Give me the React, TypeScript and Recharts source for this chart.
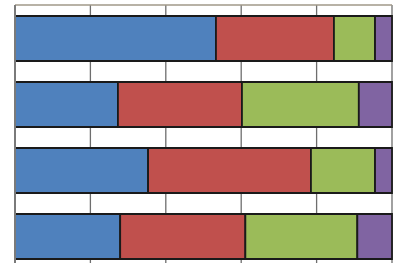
import React from 'react';
import { BarChart, Bar, XAxis, YAxis, CartesianGrid } from 'recharts';

// Row labels are cropped out of the picture, so these are placeholders
const categories = ['A', 'B', 'C', 'D'];
// Shares in percent (each row sums to ~100)
const blueValues = [53.3, 27.3, 35.3, 27.9];
const redValues = [31.3, 32.9, 43.2, 33.2];
const greenValues = [10.9, 31.0, 17.0, 29.7];
const purpleValues = [4.5, 8.8, 4.5, 9.2];
const xTicks = [0, 20, 40, 60, 80, 100];

const data = categories.map((name, i) => ({
  name,
  blue: blueValues[i],
  red: redValues[i],
  green: greenValues[i],
  purple: purpleValues[i],
}));

const edge = '#1a1a1a';

// tick labels are off-picture; draw nothing but keep the ticks for the grid
const NoTick = () => <g />;

export default function App() {
  return (
    <div style={{ position: 'absolute', left: 0, top: 0, width: 398, height: 263, overflow: 'hidden', background: '#fff' }}>
      <BarChart
        width={398}
        height={272}
        data={data}
        layout="vertical"
        margin={{ top: 4, right: 6, left: 0, bottom: 3 }}
        barSize={45}
      >
        <CartesianGrid horizontal={false} stroke="#6e6e6e" strokeWidth={1.3} />
        <XAxis
          type="number"
          domain={[0, 100]}
          ticks={xTicks}
          interval={0}
          orientation="top"
          height={1}
          tick={<NoTick />}
          tickLine={false}
          axisLine={{ stroke: '#a09888', strokeWidth: 1.5 }}
        />
        <YAxis
          type="category"
          dataKey="name"
          width={15}
          tick={false}
          tickLine={false}
          axisLine={{ stroke: '#7a7a7a', strokeWidth: 2 }}
        />
        <Bar dataKey="blue" stackId="s" fill="#4F81BD" stroke={edge} strokeWidth={1.8} isAnimationActive={false} />
        <Bar dataKey="red" stackId="s" fill="#C0504D" stroke={edge} strokeWidth={1.8} isAnimationActive={false} />
        <Bar dataKey="green" stackId="s" fill="#9BBB59" stroke={edge} strokeWidth={1.8} isAnimationActive={false} />
        <Bar dataKey="purple" stackId="s" fill="#8064A2" stroke={edge} strokeWidth={1.8} isAnimationActive={false} />
      </BarChart>
    </div>
  );
}
